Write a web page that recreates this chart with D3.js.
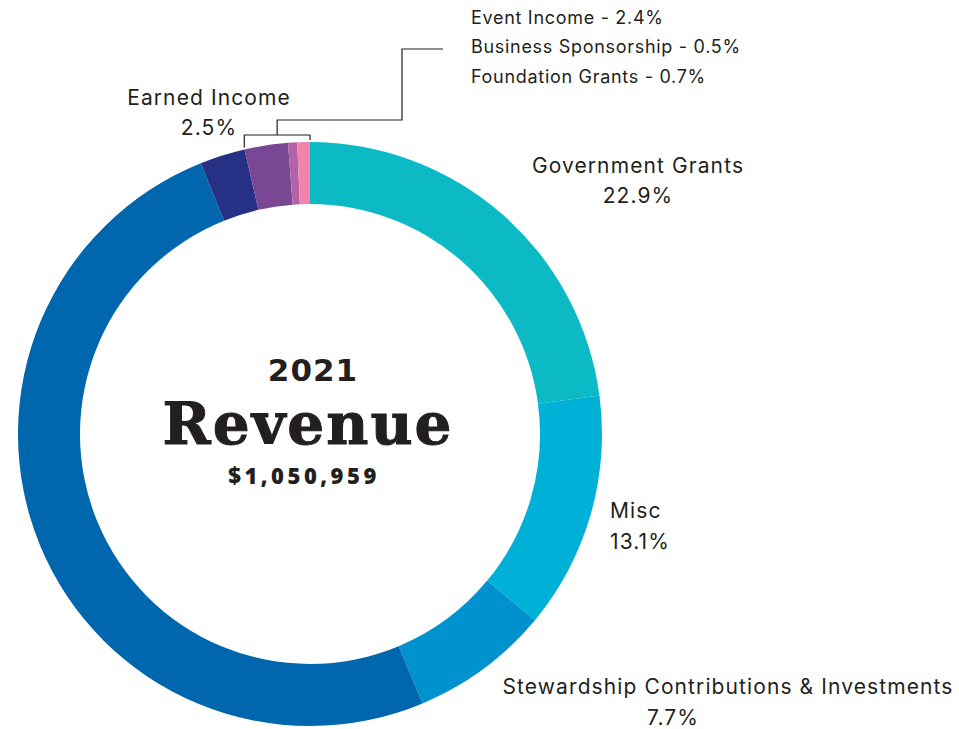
<!DOCTYPE html>
<html><head><meta charset="utf-8">
<script src="https://cdn.jsdelivr.net/npm/d3@7"></script>
<style>
html,body{margin:0;padding:0;background:#fff;}
svg{display:block;}
.lbl{font-family:"Inter","Noto Sans",sans-serif;fill:#231f20;}
</style></head>
<body>
<svg id="chart" width="959" height="729"></svg>
<script>
const categories = ["Government Grants","Misc","Stewardship Contributions & Investments","Individual Contributions","Earned Income","Event Income","Business Sponsorship","Foundation Grants"];
const values = [22.9, 13.1, 7.7, 50.2, 2.5, 2.4, 0.5, 0.7];
const colors = ["#0BBAC5","#00B1D7","#0092CF","#0066AD","#263185","#7A4795","#B163A6","#F082AC"];
const title = ["2021","Revenue","$1,050,959"];

const svg = d3.select("#chart");
const cx = 310, cy = 434, R = 292, r = 230;
const g = svg.append("g").attr("transform",`translate(${cx},${cy})`);
const data = categories.map((c,i)=>({name:c,value:values[i],color:colors[i]}));
const pie = d3.pie().value(d=>d.value).sort(null);
const arc = d3.arc().innerRadius(r).outerRadius(R);
g.selectAll("path").data(pie(data)).join("path")
  .attr("d",arc).attr("fill",d=>d.data.color);

// center title
g.append("text").attr("text-anchor","middle").attr("x",3).attr("y",-53)
  .style("font-family","'DejaVu Sans',sans-serif").style("font-weight","900")
  .style("font-size","31px").style("letter-spacing","1px").attr("fill","#231f20").text(title[0]);
g.append("text").attr("text-anchor","middle").attr("x",-2).attr("y",10)
  .style("font-family","'DejaVu Serif',serif").style("font-weight","bold")
  .style("font-size","58px").style("letter-spacing","2px").attr("fill","#231f20").attr("stroke","#231f20").attr("stroke-width",1).text(title[1]);
g.append("text").attr("text-anchor","middle").attr("x",-6).attr("y",50)
  .style("font-family","'Open Sans',sans-serif").style("font-weight","800")
  .style("font-size","22px").style("letter-spacing","3.5px").attr("fill","#231f20").text(title[2]);

const fmt = v => d3.format(".1f")(v)+"%";
function lab(x,y,txt,anchor,size,ls){
  svg.append("text").attr("class","lbl").attr("x",x).attr("y",y)
    .attr("text-anchor",anchor).style("font-size",size+"px")
    .style("letter-spacing",ls+"px").text(txt);
}
lab(638,173,categories[0],"middle",21,1.1); lab(638,203,fmt(values[0]),"middle",21,1.1);
lab(610,518,categories[1],"start",21,1.1); lab(610,549,fmt(values[1]),"start",21,1.1);
lab(728,694,categories[2],"middle",21,1.1); lab(673,725,fmt(values[2]),"middle",21,1.1);
lab(209,105,categories[4],"middle",21,1.1); lab(209,135,fmt(values[4]),"middle",21,1.1);
lab(471,24,categories[5]+" - "+fmt(values[5]),"start",18,0.7);
lab(471,53,categories[6]+" - "+fmt(values[6]),"start",18,0.7);
lab(471,83,categories[7]+" - "+fmt(values[7]),"start",18,0.7);

// bracket + leader for small segments
const toXY = (a,rad)=>[cx+rad*Math.sin(a), cy-rad*Math.cos(a)];
const arcs = pie(data);
const a0 = arcs[5].startAngle, a1 = arcs[7].endAngle;
const p0 = toXY(a0,R+1), p1 = toXY(a1,R+1);
const by = 135;
const mid = (p0[0]+p1[0])/2;
svg.append("path").attr("fill","none").attr("stroke","#231f20").attr("stroke-width",1.2)
  .attr("d",`M${p0[0]},${p0[1]-1}V${by}H${p1[0]}V${p1[1]-1}`);
svg.append("path").attr("fill","none").attr("stroke","#231f20").attr("stroke-width",1.2)
  .attr("d",`M${mid},${by}V120H402V49H443`);
</script>
</body></html>
